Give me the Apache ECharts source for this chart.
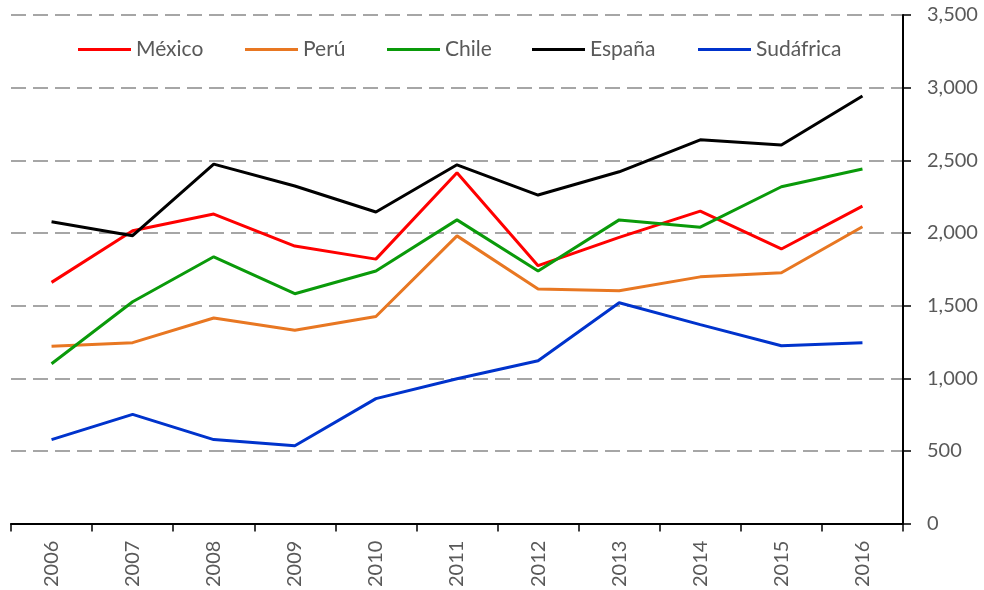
<!DOCTYPE html>
<html>
<head>
<meta charset="utf-8">
<script src="https://cdn.jsdelivr.net/npm/echarts@6/dist/echarts.min.js"></script>
<style>
  html, body { margin: 0; padding: 0; background: #fff; }
  #chart { width: 984px; height: 590px; }
</style>
</head>
<body>
<div id="chart"></div>
<script>
// años
var years = ['2006', '2007', '2008', '2009', '2010', '2011', '2012', '2013', '2014', '2015', '2016'];

var mexico    = [1660, 2015, 2130, 1910, 1820, 2415, 1775, 1970, 2150, 1890, 2185];
var peru      = [1220, 1245, 1415, 1330, 1425, 1980, 1615, 1602, 1698, 1726, 2043];
var chile     = [1100, 1527, 1836, 1582, 1738, 2090, 1738, 2090, 2040, 2318, 2440];
var espana    = [2077, 1981, 2474, 2323, 2144, 2469, 2261, 2421, 2641, 2605, 2942];
var sudafrica = [578, 752, 578, 536, 860, 997, 1121, 1520, 1369, 1224, 1245];

var names  = ['México', 'Perú', 'Chile', 'España', 'Sudáfrica'];
var colors = ['#FF0000', '#E87722', '#0A9A0A', '#000000', '#0033CC'];
var legendLeft = [78, 245, 387, 532, 698];

var textColor = '#595959';
var fontFam = 'Lato, "Open Sans", sans-serif';

function serie(name, data, color) {
    return {
        name: name,
        type: 'line',
        data: data,
        symbol: 'none',
        lineStyle: { color: color, width: 3 },
        itemStyle: { color: color },
        animation: false
    };
}

// una leyenda por serie para colocarlas como en el original
var legends = names.map(function (n, i) {
    return {
        left: legendLeft[i],
        top: 39,
        padding: 0,
        icon: 'rect',
        itemWidth: 53,
        itemHeight: 3,
        textStyle: { color: textColor, fontSize: 21, fontFamily: fontFam, padding: [0, 0, 0, 0] },
        data: [n]
    };
});

var myChart = echarts.init(document.getElementById('chart'));
var option = {
    backgroundColor: '#fff',
    animation: false,
    grid: { left: 11, right: 81, top: 15, bottom: 65, containLabel: false },
    legend: legends,
    xAxis: {
        type: 'category',
        data: years,
        boundaryGap: true,
        axisLine: { lineStyle: { color: '#000', width: 2 } },
        axisTick: { show: true, length: 8, lineStyle: { color: '#000', width: 1.5 } },
        axisLabel: { rotate: 90, color: textColor, fontSize: 20, fontFamily: fontFam, margin: 17 },
        splitLine: { show: false }
    },
    yAxis: {
        type: 'value',
        position: 'right',
        min: 0,
        max: 3500,
        interval: 500,
        axisLine: { show: true, lineStyle: { color: '#000', width: 2 } },
        axisTick: { show: true, length: 8, lineStyle: { color: '#000', width: 1.5 } },
        axisLabel: {
            color: textColor, fontSize: 20, fontFamily: fontFam, margin: 24,
            formatter: function (v) { return v.toLocaleString('en-US'); }
        },
        splitLine: { show: true, lineStyle: { color: '#A6A6A6', width: 2, type: [15, 7] } }
    },
    series: names.map(function (n, i) {
        return serie(n, [mexico, peru, chile, espana, sudafrica][i], colors[i]);
    })
};
myChart.setOption(option);
</script>
</body>
</html>
